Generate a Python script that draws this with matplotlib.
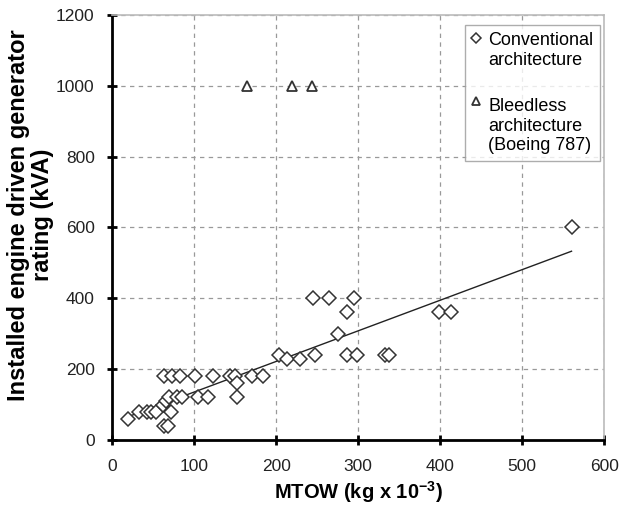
import matplotlib
matplotlib.use("Agg")
import matplotlib.pyplot as plt
import matplotlib.transforms as mtransforms
from matplotlib.legend_handler import HandlerLine2D
import numpy as np

plt.rcParams['font.family'] = ['Liberation Sans', 'DejaVu Sans']

conv_mtow = [20, 33, 43, 48, 54, 62, 66, 63, 68, 63, 73, 83, 70, 79, 85, 72,
             101, 105, 117, 123, 144, 150, 152, 152, 170, 184,
             204, 213, 229, 247, 286, 298, 333, 337,
             245, 265, 295, 286, 275, 398, 413, 560]
conv_kva = [60, 80, 80, 80, 80, 100, 110, 40, 40, 180, 180, 180, 120, 120, 120, 80,
            180, 120, 120, 180, 180, 180, 160, 120, 180, 180,
            240, 230, 230, 240, 240, 240, 240, 240,
            400, 400, 400, 360, 300, 360, 360, 600]
bleed_mtow = [165, 219, 244]
bleed_kva = [1000, 1000, 1000]

LEG_FS = 13
LEG_LS = 1.17


class TopHandler(HandlerLine2D):
    """Place the legend marker beside the first line of a multi-line label."""
    def __init__(self, nlines, **kw):
        super().__init__(**kw)
        self.nlines = nlines

    def create_artists(self, legend, orig_handle, xdescent, ydescent, width,
                       height, fontsize, trans):
        artists = super().create_artists(legend, orig_handle, xdescent, ydescent,
                                         width, height, fontsize, trans)
        shift = (self.nlines - 1) / 2.0 * fontsize * LEG_LS * 1.2
        for a in artists:
            a.set_transform(mtransforms.Affine2D().translate(0, shift) + trans)
        return artists


fig = plt.figure(figsize=(6.24, 5.14), dpi=100)
ax = fig.add_axes([0.1795, 0.144, 0.789, 0.827])

h1, = ax.plot(conv_mtow, conv_kva, linestyle='none', marker='D', markersize=6.8,
              markerfacecolor='white', markeredgecolor='#333333', markeredgewidth=1.1,
              label='Conventional\narchitecture', zorder=3)
h2, = ax.plot(bleed_mtow, bleed_kva, linestyle='none', marker='^', markersize=7.5,
              markerfacecolor='white', markeredgecolor='#333333', markeredgewidth=1.3,
              label='Bleedless\narchitecture\n(Boeing 787)', zorder=3)

# linear trend line of conventional data
xc = np.array(conv_mtow, dtype=float)
yc = np.array(conv_kva, dtype=float)
m, b = np.polyfit(xc, yc, 1)
xl = np.array([xc.min(), xc.max()])
ax.plot(xl, m * xl + b, color='#222222', linewidth=1.0, zorder=2)

ax.set_xlim(0, 600)
ax.set_ylim(0, 1200)
ax.set_xticks(np.arange(0, 601, 100))
ax.set_yticks(np.arange(0, 1201, 200))
ax.grid(True, linestyle=(0, (3.5, 3.5)), color='#999999', linewidth=0.9)
ax.set_axisbelow(True)

for s in ['top', 'right']:
    ax.spines[s].set_color('#bbbbbb')
    ax.spines[s].set_linewidth(1.2)
for s in ['left', 'bottom']:
    ax.spines[s].set_color('black')
    ax.spines[s].set_linewidth(2.0)

ax.tick_params(axis='both', direction='inout', length=7, width=2.0,
               labelsize=12.5, colors='black')
ax.tick_params(axis='x', pad=10)
ax.tick_params(axis='y', pad=9)
for lab in ax.get_xticklabels() + ax.get_yticklabels():
    lab.set_color('#222222')

ax.set_xlabel(r'MTOW (kg x 10$^{\mathregular{-3}}$)', fontsize=14.5, fontweight='bold', labelpad=4)
ax.set_ylabel('Installed engine driven generator\nrating (kVA)', fontsize=17,
              fontweight='bold', linespacing=1.1)
ax.yaxis.set_label_coords(-0.117, 0.53)

leg = ax.legend(handles=[h1, h2], loc='upper right', bbox_to_anchor=(0.992, 0.976),
                fontsize=LEG_FS, frameon=True, fancybox=False, edgecolor='#999999',
                handlelength=0.5, handletextpad=0.4, labelspacing=1.65,
                borderpad=0.4, markerscale=0.7, borderaxespad=0.0,
                handler_map={h1: TopHandler(2), h2: TopHandler(3)})
leg.get_frame().set_linewidth(1.0)
for t in leg.get_texts():
    t.set_linespacing(LEG_LS)

fig.savefig('out.png', dpi=100)
